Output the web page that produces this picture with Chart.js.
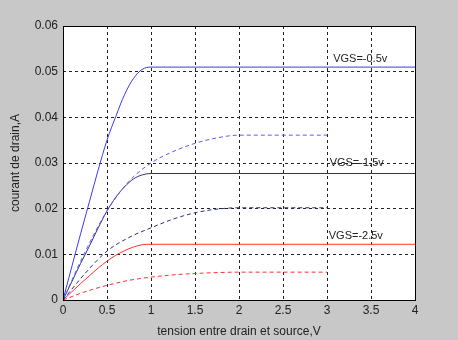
<!DOCTYPE html>
<html>
<head>
<meta charset="utf-8">
<script src="https://cdn.jsdelivr.net/npm/chart.js@4"></script>
<style>
  html, body { margin: 0; padding: 0; background: #c8c8c8; }
  #wrap { width: 458px; height: 340px; }
</style>
</head>
<body>
<div id="wrap"><canvas id="graph" width="458" height="340"></canvas></div>
<script>
// drain voltage points (V) for the solid curves and the dashed curves
const vdsSolid = [0, 0.1, 0.2, 0.3, 0.4, 0.5, 0.6, 0.7, 0.8, 0.9, 1.0, 4];
const vdsDashed = [0, 0.25, 0.5, 0.75, 1.0, 1.25, 1.5, 1.75, 2.0, 3.0];

// drain current (A)
const idVgs05 = [0, 0.0073, 0.0145, 0.0215, 0.0285, 0.0350, 0.0402, 0.0450, 0.0485, 0.0505, 0.0510, 0.0510];
const idVgs15 = [0, 0.0040, 0.0080, 0.0118, 0.0158, 0.0195, 0.0225, 0.0248, 0.0265, 0.0274, 0.0277, 0.0277];
const idVgs25 = [0, 0.0018, 0.0036, 0.0053, 0.0070, 0.0085, 0.0098, 0.0108, 0.0116, 0.0121, 0.0122, 0.0122];
const idDash05 = [0, 0.0105, 0.0195, 0.0260, 0.0300, 0.0325, 0.0343, 0.0355, 0.0361, 0.0361];
const idDash15 = [0, 0.0058, 0.0107, 0.0137, 0.0158, 0.0177, 0.0191, 0.0199, 0.0202, 0.0202];
const idDash25 = [0, 0.0018, 0.0032, 0.0043, 0.0050, 0.0055, 0.0058, 0.0060, 0.0061, 0.0061];

// labels next to the curves: text, x (V), y (A)
const curveLabels = ["VGS=-0.5v", "VGS=-1.5v", "VGS=-2.5v"];
const labelX = [3.07, 3.03, 3.02];
const labelY = [0.0527, 0.0301, 0.0141];

const xTicks = [0, 0.5, 1, 1.5, 2, 2.5, 3, 3.5, 4];
const yTicks = [0, 0.01, 0.02, 0.03, 0.04, 0.05, 0.06];

function toPoints(xs, ys) {
    return xs.map((x, i) => ({x: x, y: ys[i]}));
}

function line(xs, ys, color, dashed) {
    return {
        data: toPoints(xs, ys),
        borderColor: color,
        borderWidth: 1,
        borderDash: dashed ? [4, 3] : [],
        pointRadius: 0,
        cubicInterpolationMode: 'monotone',
        fill: false
    };
}

// grey figure background, black box round the axes, curve labels
const matlabLook = {
    id: 'matlabLook',
    beforeDraw(chart) {
        const ctx = chart.ctx;
        ctx.save();
        ctx.fillStyle = '#c8c8c8';
        ctx.fillRect(0, 0, chart.width, chart.height);
        const a = chart.chartArea;
        ctx.fillStyle = '#ffffff';
        ctx.fillRect(a.left, a.top, a.right - a.left, a.bottom - a.top);
        ctx.restore();
    },
    afterDraw(chart) {
        const ctx = chart.ctx;
        const a = chart.chartArea;
        ctx.save();
        ctx.strokeStyle = '#000';
        ctx.lineWidth = 1;
        ctx.strokeRect(Math.round(a.left) + 0.5, Math.round(a.top) + 0.5,
            Math.round(a.right - a.left), Math.round(a.bottom - a.top));
        ctx.fillStyle = '#222';
        ctx.font = '11px "Liberation Sans", Arial, sans-serif';
        ctx.textBaseline = 'middle';
        for (let i = 0; i < curveLabels.length; i++) {
            const px = chart.scales.x.getPixelForValue(labelX[i]);
            const py = chart.scales.y.getPixelForValue(labelY[i]);
            ctx.fillText(curveLabels[i], px, py);
        }
        ctx.restore();
    }
};

const ctx = document.getElementById('graph').getContext('2d');
new Chart(ctx, {
    type: 'line',
    data: {
        datasets: [
            line(vdsSolid, idVgs05, '#3a3aff', false),
            line(vdsDashed, idDash05, '#5a5aff', true),
            line(vdsSolid, idVgs15, '#303088', false),
            line(vdsDashed, idDash15, '#303080', true),
            line(vdsSolid, idVgs25, '#ff3030', false),
            line(vdsDashed, idDash25, '#ff3030', true)
        ]
    },
    options: {
        responsive: false,
        animation: false,
        devicePixelRatio: 1,
        layout: { padding: { top: 26, right: 43, left: 0, bottom: 0 } },
        plugins: { legend: { display: false }, tooltip: { enabled: false } },
        scales: {
            x: {
                type: 'linear',
                min: 0,
                max: 4,
                afterBuildTicks(scale) { scale.ticks = xTicks.map(v => ({value: v})); },
                afterFit(scale) { scale.height = 40; },
                ticks: {
                    color: '#222',
                    padding: 3,
                    font: { family: '"Liberation Sans", Arial, sans-serif', size: 12 },
                    callback: v => String(v),
                    maxRotation: 0
                },
                grid: { color: '#222', lineWidth: 1, drawTicks: false },
                border: { display: false, dash: [3, 3] },
                title: {
                    display: true,
                    text: 'tension entre drain et source,V',
                    color: '#222',
                    padding: { top: 0, bottom: 1 },
                    font: { family: '"Liberation Sans", Arial, sans-serif', size: 12 }
                }
            },
            y: {
                type: 'linear',
                min: 0,
                max: 0.06,
                afterBuildTicks(scale) { scale.ticks = yTicks.map(v => ({value: v})); },
                afterFit(scale) { scale.width = 63; },
                ticks: {
                    color: '#222',
                    padding: 5,
                    font: { family: '"Liberation Sans", Arial, sans-serif', size: 12 },
                    callback: v => String(v)
                },
                grid: { color: '#222', lineWidth: 1, drawTicks: false },
                border: { display: false, dash: [3, 3] },
                title: {
                    display: true,
                    text: 'courant de drain,A',
                    color: '#222',
                    padding: { top: 8, bottom: 0 },
                    font: { family: '"Liberation Sans", Arial, sans-serif', size: 12 }
                }
            }
        }
    },
    plugins: [matlabLook]
});
</script>
</body>
</html>
